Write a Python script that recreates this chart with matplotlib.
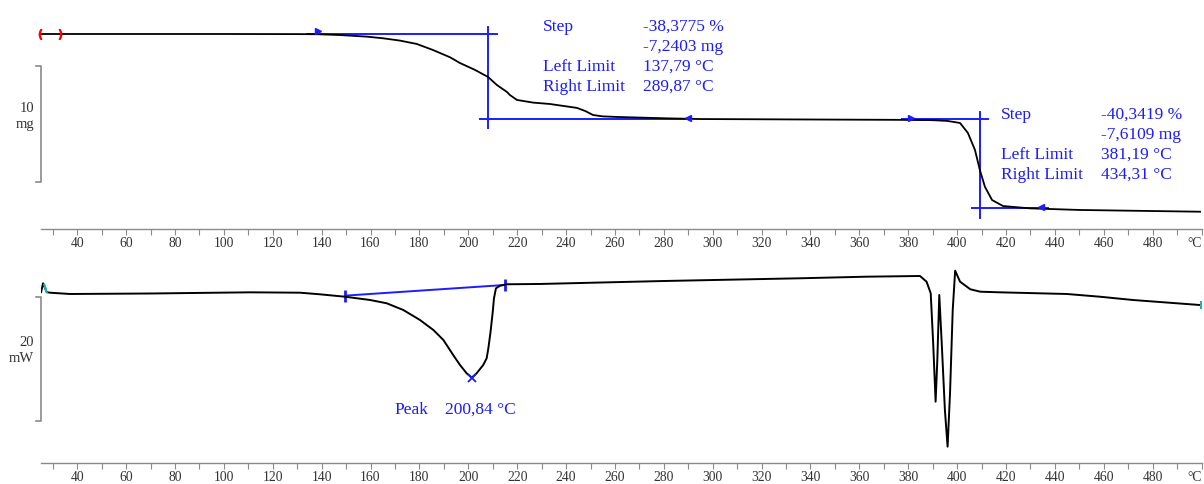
import numpy as np
import matplotlib
matplotlib.use("Agg")
import matplotlib.pyplot as plt
from matplotlib.transforms import blended_transform_factory

plt.rcParams['font.family'] = ['Liberation Serif', 'DejaVu Serif']

# TGA (mass, mg)
temp_tga = np.array([25.1, 100, 130, 138.1, 147.5, 158.5, 165.1, 172.0, 178.9, 185.5, 192.5, 196.6,
                     202.7, 208.1, 211.7, 215.8, 217.0, 219.9, 226.5, 233.4, 244.5, 248, 251.0, 255,
                     260.8, 281.3, 294.8, 340, 376.6, 390, 395.9, 401.2, 404.4, 407.3, 409.3, 411.4,
                     414.3, 418.8, 429.8, 450.3, 499.4])
masa_tga = np.array([18.87, 18.87, 18.86, 18.85, 18.78, 18.64, 18.50, 18.30, 18.01, 17.49, 16.86, 16.36,
                     15.77, 15.15, 14.46, 13.86, 13.60, 13.17, 12.94, 12.82, 12.48, 12.20, 11.87, 11.75,
                     11.70, 11.58, 11.52, 11.48, 11.45, 11.42, 11.36, 11.18, 10.32, 8.85, 7.12, 5.65,
                     4.52, 4.00, 3.80, 3.66, 3.51])

# DSC (heat flow, mW, arbitrary offset)
temp_dsc = np.array([25.2, 26.0, 27.5, 28.8, 37.0, 69.8, 110.7, 131.1, 139.3, 149.5, 159.8, 166.6,
                     173.4, 180.2, 185.7, 189.8, 193.8, 196.6, 199.3, 201.4, 203.4, 206.1, 207.5,
                     208.2, 209.1, 210.0, 210.5, 211.3, 213.0, 215.7, 229.3, 280, 335.7, 363.1,
                     384.8, 387.5, 389.2, 390.2, 391.2, 391.9, 392.7, 393.7, 395.0, 396.1, 397.1,
                     398.2, 399.2, 401.2, 405.4, 409.5, 417.5, 444.9, 458.4, 471.9, 499.3])
flujo_dsc = np.array([0.3, 1.73, 0.3, 0.21, 0.0, 0.08, 0.27, 0.21, -0.05, -0.44, -0.97, -1.50,
                      -2.59, -4.20, -5.82, -7.44, -9.86, -11.48, -12.82, -13.53, -12.82, -11.48, -10.40,
                      -8.78, -6.10, -2.86, -0.70, 0.92, 1.34, 1.57, 1.62, 2.10, 2.54, 2.80,
                      2.91, 1.99, 0.11, -7.92, -17.41, -10.67, -0.16, -7.92, -18.76, -24.69, -16.01,
                      -2.59, 3.77, 1.99, 0.76, 0.37, 0.27, 0.0, -0.44, -0.97, -1.78])

# Step evaluation results
escalon1 = {"T": [134.1, 211.7, 204.8, 290.6, 208.1], "m": [18.87, 11.52, 19.47, 10.74]}
escalon2 = {"T": [377.4, 412.6, 406.0, 437.1, 409.3], "m": [11.52, 3.83, 12.13, 2.97]}
textos1 = [("Step", "-38,3775 %"), ("", "-7,2403 mg"), ("Left Limit", "137,79 °C"), ("Right Limit", "289,87 °C")]
textos2 = [("Step", "-40,3419 %"), ("", "-7,6109 mg"), ("Left Limit", "381,19 °C"), ("Right Limit", "434,31 °C")]
pico_T, pico_v = 201.4, -13.53
base_T = [149.5, 215.0]
base_v = [-0.27, 1.46]

azul = '#1c1cff'
gris = '#8a8a8a'

fig = plt.figure(figsize=(12.04, 4.84), dpi=100)
ax1 = fig.add_axes([0.03414, 0.52686, 0.9638, 0.46281])
ax2 = fig.add_axes([0.03414, 0.04401, 0.9638, 0.43533])

ticks = np.arange(30, 501, 10)
etiquetas = []
for t in ticks:
    if t == 500:
        etiquetas.append("°C")
    elif t % 20 == 0:
        etiquetas.append(str(t))
    else:
        etiquetas.append("")

for ax in (ax1, ax2):
    ax.set_xlim(25.2, 500)
    for s in ('top', 'right', 'left'):
        ax.spines[s].set_visible(False)
    ax.spines['bottom'].set_color(gris)
    ax.spines['bottom'].set_linewidth(1.0)
    ax.set_yticks([])
    ax.set_xticks(ticks)
    ax.set_xticklabels(etiquetas)
    ax.tick_params(axis='x', direction='out', length=4, width=0.8, color=gris,
                   labelsize=9.8, labelcolor='#333333', pad=2)
    ax.get_xticklabels()[-1].set_horizontalalignment('right')

# --- TGA ---
ax1.set_ylim(2.016, 21.376)
ax1.plot(temp_tga, masa_tga, color='black', lw=1.3, zorder=3)
T, m = escalon1["T"], escalon1["m"]
ax1.plot([T[0], T[1]], [m[0], m[0]], color=azul, lw=1.4)
ax1.plot([T[2], T[3]], [m[1], m[1]], color=azul, lw=1.4)
ax1.plot([T[4], T[4]], [m[2], m[3]], color=azul, lw=1.4)
T, m = escalon2["T"], escalon2["m"]
ax1.plot([T[0], T[1]], [m[0], m[0]], color=azul, lw=1.4)
ax1.plot([T[2], T[3]], [m[1], m[1]], color=azul, lw=1.4)
ax1.plot([T[4], T[4]], [m[2], m[3]], color=azul, lw=1.4)

# limit markers
ax1.plot([138.3], [19.1], marker='>', ms=4, color=azul, zorder=4)
ax1.plot([289.9], [11.62], marker='<', ms=4, color=azul, zorder=4)
ax1.plot([381.2], [11.65], marker='>', ms=4, color=azul, zorder=4)
ax1.plot([434.3], [3.93], marker='<', ms=4, color=azul, zorder=4)
ax1.plot([24.6], [18.87], marker='$($', ms=7, color='red', clip_on=False, zorder=4)
ax1.plot([33.1], [18.87], marker='$)$', ms=7, color='red', clip_on=False, zorder=4)

ys1 = [19.50, 17.77, 16.02, 14.32]
for (a, b), y in zip(textos1, ys1):
    ax1.text(230.4, y, a, color=azul, fontsize=12.5, va='center', ha='left')
    ax1.text(271.3, y, b, color=azul, fontsize=12.5, va='center', ha='left')
ys2 = [11.87, 10.14, 8.41, 6.68]
for (a, b), y in zip(textos2, ys2):
    ax1.text(417.9, y, a, color=azul, fontsize=12.5, va='center', ha='left')
    ax1.text(458.9, y, b, color=azul, fontsize=12.5, va='center', ha='left')

# --- DSC ---
ax2.set_ylim(-27.28, 6.79)
ax2.plot(temp_dsc, flujo_dsc, color='black', lw=1.4, zorder=3)
ax2.plot(base_T, base_v, color=azul, lw=1.4)
ax2.plot(base_T, base_v, ls='none', marker='|', ms=9, mew=2, color=azul)
ax2.plot([pico_T], [pico_v], marker='x', ms=6, mew=1.3, color=azul, zorder=4)
ax2.plot([26.8], [0.9], marker='$\\backslash$', ms=6, color='#20b0b0', zorder=4)
ax2.plot([499.6], [-1.78], marker='|', ms=6, mew=1.5, color='#20b0b0', clip_on=False, zorder=4)
ax2.text(169.7, -18.76, "Peak", color=azul, fontsize=12.5, va='center', ha='left')
ax2.text(190.6, -18.76, "200,84 °C", color=azul, fontsize=12.5, va='center', ha='left')

# scale bars
for ax, y0, y1, txt, yt in ((ax1, 16.1, 6.1, "10\nmg", 11.78), (ax2, -0.53, -20.53, "20\nmW", -9.14)):
    tr = blended_transform_factory(ax.transAxes, ax.transData)
    ax.plot([-0.0045, 0, 0, -0.0045], [y0, y0, y1, y1], color=gris, lw=1.2,
            transform=tr, clip_on=False)
    ax.text(-0.0061, yt, txt, transform=tr, ha='right', va='center', multialignment='right',
            fontsize=10.5, color='#333333', linespacing=1.3)

fig.savefig("out.png", dpi=100)
